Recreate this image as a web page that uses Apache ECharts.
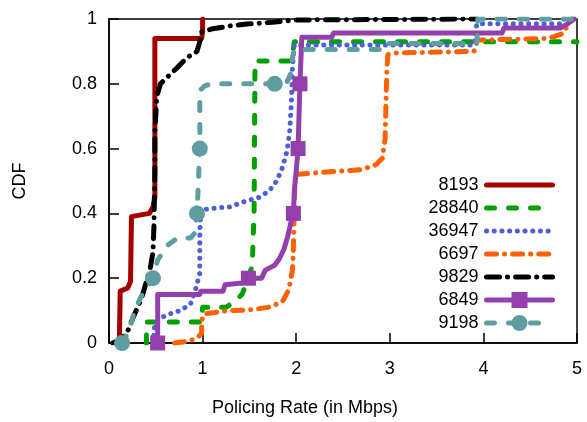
<!DOCTYPE html>
<html>
<head>
<meta charset="utf-8">
<script src="https://cdn.jsdelivr.net/npm/echarts@6/dist/echarts.min.js"></script>
<style>
  html, body { margin: 0; padding: 0; background: #fff; }
  #chart { width: 587px; height: 422px; }
</style>
</head>
<body>
<div id="chart"></div>
<script>
// Axis ticks
const xTicks = [0, 1, 2, 3, 4, 5];
const yTicks = [0, 0.2, 0.4, 0.6, 0.8, 1];

// Series names (AS numbers), in legend order
const seriesNames = ['8193', '28840', '36947', '6697', '9829', '6849', '9198'];

// CDF curves: [policing rate in Mbps, cumulative fraction]
const cdf8193 = [[0.11,0],[0.12,0.16],[0.2,0.17],[0.23,0.19],[0.24,0.39],[0.43,0.4],[0.47,0.42],[0.49,0.45],[0.49,0.94],[0.99,0.94],[1.0,0.96],[1.0,1.0]];
const cdf28840 = [[0.4,0],[0.4,0.065],[0.99,0.065],[1.0,0.11],[1.25,0.11],[1.35,0.13],[1.42,0.15],[1.48,0.19],[1.53,0.24],[1.55,0.4],[1.56,0.87],[1.93,0.87],[1.96,0.89],[1.98,0.93],[5.0,0.93]];
const cdf36947 = [[0.47,0],[0.49,0.06],[0.57,0.08],[0.65,0.09],[0.76,0.1],[0.87,0.12],[0.92,0.16],[0.97,0.215],[0.97,0.33],[0.98,0.41],[1.08,0.415],[1.29,0.42],[1.43,0.435],[1.61,0.45],[1.71,0.47],[1.77,0.49],[1.84,0.53],[1.9,0.59],[1.93,0.65],[1.95,0.75],[1.96,0.85],[1.98,0.92],[3.9,0.92],[3.93,0.985],[4.83,0.985],[4.86,1.0],[5.0,1.0]];
const cdf6697 = [[0.7,0],[0.84,0.005],[0.94,0.015],[0.99,0.03],[0.99,0.07],[1.02,0.09],[1.27,0.1],[1.49,0.102],[1.7,0.11],[1.85,0.126],[1.92,0.164],[1.96,0.225],[1.97,0.29],[1.98,0.43],[1.99,0.52],[2.2,0.525],[2.7,0.535],[2.85,0.55],[2.92,0.57],[2.95,0.63],[2.96,0.75],[2.97,0.85],[2.98,0.89],[3.05,0.895],[3.9,0.9],[3.93,0.935],[4.7,0.94],[4.85,0.955],[4.9,0.98],[4.95,1.0]];
const cdf9829 = [[0.04,0],[0.12,0.01],[0.19,0.03],[0.26,0.08],[0.35,0.14],[0.44,0.23],[0.47,0.28],[0.48,0.36],[0.49,0.53],[0.49,0.65],[0.51,0.76],[0.55,0.8],[0.62,0.82],[0.73,0.85],[0.83,0.88],[0.94,0.9],[0.97,0.93],[0.99,0.96],[1.11,0.97],[1.32,0.98],[1.5,0.985],[1.75,0.99],[2.0,0.997],[3.93,1.0]];
const cdf6849 = [[0.52,0],[0.52,0.15],[0.97,0.15],[0.98,0.16],[1.22,0.16],[1.24,0.18],[1.42,0.185],[1.49,0.2],[1.63,0.2],[1.67,0.225],[1.77,0.24],[1.82,0.26],[1.87,0.29],[1.91,0.33],[1.95,0.38],[1.97,0.4],[1.98,0.47],[2.0,0.53],[2.02,0.6],[2.04,0.8],[2.06,0.944],[2.38,0.944],[2.4,0.957],[4.2,0.957],[4.22,0.972],[4.82,0.972],[4.9,0.985],[4.97,1.0]];
const cdf9198 = [[0.14,0],[0.22,0.04],[0.28,0.108],[0.31,0.123],[0.36,0.154],[0.41,0.17],[0.47,0.2],[0.52,0.256],[0.62,0.3],[0.73,0.324],[0.87,0.324],[0.92,0.34],[0.94,0.4],[0.95,0.46],[0.97,0.6],[0.97,0.78],[1.03,0.795],[1.13,0.8],[1.77,0.8],[1.9,0.805],[1.94,0.83],[1.96,0.88],[1.98,0.906],[2.93,0.906],[2.95,0.924],[3.93,0.924],[3.94,1.0],[5.0,1.0]];

// Points of each curve that carry a marker (indices into the arrays above)
const marks6849 = [0, 7, 15, 18, 19];
const marks9198 = [0, 6, 12, 14, 18];

const FONT = '"Liberation Sans", Arial, Helvetica, sans-serif';

function withMarks(points, marks) {
  return points.map((p, i) => marks.includes(i) ? { value: p } : { value: p, symbol: 'none' });
}

function lineSeries(name, data, color, type, width, extra) {
  return Object.assign({
    name: name,
    type: 'line',
    data: data,
    symbol: 'none',
    animation: false,
    lineStyle: { color: color, width: width, type: type, cap: 'round', join: 'round' },
    itemStyle: { color: color },
    emphasis: { disabled: true }
  }, extra || {});
}

const series = [
  lineSeries(seriesNames[0], cdf8193, '#a50000', 'solid', 5),
  lineSeries(seriesNames[1], cdf28840, '#00a000', [8, 14], 5),
  lineSeries(seriesNames[2], cdf36947, '#4f5fd8', [0.1, 7.6], 5),
  lineSeries(seriesNames[3], cdf6697, '#ff6000', [10, 8, 0.1, 8], 5),
  lineSeries(seriesNames[4], cdf9829, '#000000', [13, 8, 0.1, 8], 5),
  lineSeries(seriesNames[5], withMarks(cdf6849, marks6849), '#9440ac', 'solid', 5,
    { symbol: 'rect', symbolSize: 15, showSymbol: true, showAllSymbol: true }),
  lineSeries(seriesNames[6], withMarks(cdf9198, marks9198), '#5f9ea0', [8, 14], 5,
    { symbol: 'circle', symbolSize: 16, showSymbol: true, showAllSymbol: true })
];

// Legend entries: curves without markers show only their line sample
const legendData = seriesNames.map((n, i) =>
  (i === 5 || i === 6) ? { name: n } : { name: n, itemStyle: { opacity: 0 } });

const chart = echarts.init(document.getElementById('chart'), null, { renderer: 'canvas' });
chart.setOption({
  backgroundColor: '#ffffff',
  textStyle: { fontFamily: FONT },
  grid: {
    left: 109, right: 10, top: 19, bottom: 79,
    show: true, borderColor: '#000', borderWidth: 1.5, backgroundColor: 'transparent'
  },
  legend: {
    orient: 'vertical',
    right: 27,
    top: 170,
    align: 'right',
    itemWidth: 66,
    itemHeight: 20,
    itemGap: 3,
    selectedMode: false,
    data: legendData,
    lineStyle: { width: 'inherit', type: 'inherit', cap: 'inherit' },
    textStyle: { fontFamily: FONT, fontSize: 18, color: '#000', width: 56, align: 'right', lineHeight: 20, padding: [0, 3, 0, 0] }
  },
  xAxis: {
    type: 'value',
    min: xTicks[0],
    max: xTicks[xTicks.length - 1],
    interval: 1,
    name: 'Policing Rate (in Mbps)',
    nameLocation: 'middle',
    nameGap: 56,
    nameTextStyle: { fontFamily: FONT, fontSize: 18, color: '#000', padding: [0, 76, 0, 0] },
    axisLine: { show: true, lineStyle: { color: '#000', width: 1.5 } },
    axisTick: { show: true, inside: true, length: 10, lineStyle: { color: '#000', width: 1.5 } },
    axisLabel: { fontFamily: FONT, fontSize: 18, color: '#000', margin: 17 },
    splitLine: { show: false }
  },
  yAxis: {
    type: 'value',
    min: yTicks[0],
    max: yTicks[yTicks.length - 1],
    interval: 0.2,
    name: 'CDF',
    nameLocation: 'middle',
    nameGap: 80,
    nameRotate: 90,
    nameTextStyle: { fontFamily: FONT, fontSize: 18, color: '#000' },
    axisLine: { show: true, lineStyle: { color: '#000', width: 1.5 } },
    axisTick: { show: true, inside: true, length: 10, lineStyle: { color: '#000', width: 1.5 } },
    axisLabel: { fontFamily: FONT, fontSize: 18, color: '#000', margin: 12 },
    splitLine: { show: false }
  },
  series: series
});
</script>
</body>
</html>
